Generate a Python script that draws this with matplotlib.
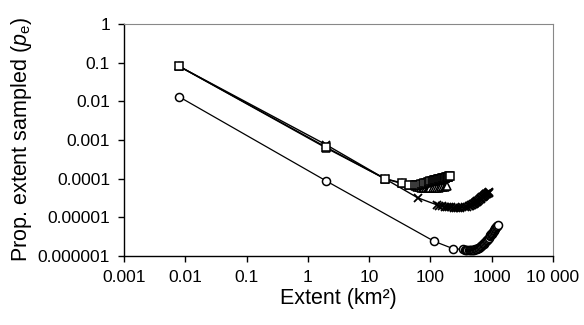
import matplotlib
matplotlib.use("Agg")
import matplotlib.pyplot as plt
from matplotlib.ticker import FixedLocator, FixedFormatter, NullLocator

plt.rcParams['font.family'] = ['Liberation Sans', 'DejaVu Sans']
plt.rcParams['mathtext.fontset'] = 'custom'
plt.rcParams['mathtext.rm'] = 'Liberation Sans'
plt.rcParams['mathtext.it'] = 'Liberation Sans:italic'

# squares
x_sq = [0.008, 2, 18, 34, 45, 56, 60, 65, 70, 75, 80, 85, 90, 95, 100, 105, 110, 115,
        120, 125, 130, 135, 140, 145, 150, 155, 160, 165, 170, 175, 180, 185, 190, 195,
        200, 208]
y_sq = [0.08, 0.00065, 1.0e-4, 7.8e-5, 7.0e-5, 6.8e-5, 6.8e-5, 6.9e-5, 7.1e-5, 7.3e-5,
        7.6e-5, 7.8e-5, 8.0e-5, 8.3e-5, 8.5e-5, 8.7e-5, 8.9e-5, 9.05e-5, 9.2e-5, 9.35e-5,
        9.5e-5, 9.65e-5, 9.8e-5, 9.9e-5, 1.0e-4, 1.02e-4, 1.03e-4, 1.04e-4, 1.05e-4,
        1.07e-4, 1.08e-4, 1.1e-4, 1.11e-4, 1.13e-4, 1.15e-4, 1.18e-4]

# triangles
x_tri = [0.008, 2, 18, 34, 45, 56, 60, 65, 70, 75, 80, 85, 90, 95, 100, 110, 120,
         130, 140, 150, 160, 170, 178, 186]
y_tri = [0.08, 0.00062, 1.0e-4, 7.5e-5, 6.8e-5, 6.4e-5, 6.2e-5, 6.0e-5, 5.9e-5, 5.8e-5,
         5.7e-5, 5.6e-5, 5.6e-5, 5.6e-5, 5.6e-5, 5.6e-5, 5.7e-5, 5.8e-5, 5.9e-5, 6.0e-5,
         6.1e-5, 6.2e-5, 6.3e-5, 6.4e-5]

# crosses
x_x = [0.008, 2, 18, 62, 128, 140, 155, 170, 185, 200, 220, 240, 260, 280, 300, 330,
       360, 390, 420, 450, 465, 480, 495, 510, 525, 540, 555, 570, 585, 600, 620, 640,
       660, 680, 700, 720, 740, 760, 780, 800, 820, 840, 860, 880, 900, 920]
y_x = [0.08, 0.00075, 1.0e-4, 3.2e-5, 2.1e-5, 2.0e-5, 1.95e-5, 1.9e-5, 1.85e-5, 1.82e-5,
       1.8e-5, 1.78e-5, 1.77e-5, 1.77e-5, 1.78e-5, 1.8e-5, 1.83e-5, 1.87e-5, 1.93e-5,
       2.0e-5, 2.05e-5, 2.1e-5, 2.15e-5, 2.2e-5, 2.28e-5, 2.35e-5, 2.42e-5, 2.5e-5,
       2.58e-5, 2.65e-5, 2.78e-5, 2.9e-5, 3.02e-5, 3.15e-5, 3.28e-5, 3.4e-5, 3.52e-5,
       3.65e-5, 3.78e-5, 3.9e-5, 4.0e-5, 4.1e-5, 4.2e-5, 4.3e-5, 4.38e-5, 4.45e-5]

# circles
x_c = [0.008, 2, 115, 234, 340, 360, 380, 400, 420, 440, 460, 480, 500, 520, 540, 560,
       580, 600, 620, 640, 660, 680, 700, 720, 740, 760, 780, 800, 825, 850, 875, 900,
       925, 950, 975, 1000, 1025, 1050, 1075, 1100, 1125, 1150, 1175, 1200, 1235, 1270]
y_c = [0.013, 8.7e-5, 2.4e-6, 1.55e-6, 1.48e-6, 1.47e-6, 1.46e-6, 1.45e-6, 1.45e-6,
       1.45e-6, 1.45e-6, 1.45e-6, 1.46e-6, 1.47e-6, 1.49e-6, 1.51e-6, 1.55e-6, 1.6e-6,
       1.65e-6, 1.7e-6, 1.77e-6, 1.85e-6, 1.92e-6, 2.0e-6, 2.1e-6, 2.2e-6, 2.3e-6,
       2.4e-6, 2.52e-6, 2.65e-6, 2.82e-6, 3.0e-6, 3.2e-6, 3.4e-6, 3.6e-6, 3.8e-6,
       4.0e-6, 4.2e-6, 4.45e-6, 4.7e-6, 4.95e-6, 5.2e-6, 5.5e-6, 5.8e-6, 6.1e-6, 6.4e-6]

x_ticks = [0.001, 0.01, 0.1, 1, 10, 100, 1000, 10000]
x_labels = ['0.001', '0.01', '0.1', '1', '10', '100', '1000', '10 000']
y_ticks = [1e-6, 1e-5, 1e-4, 1e-3, 1e-2, 1e-1, 1]
y_labels = ['0.000001', '0.00001', '0.0001', '0.001', '0.01', '0.1', '1']

fig = plt.figure(figsize=(5.84, 3.25), dpi=100)
ax = fig.add_axes([0.2123, 0.2123, 0.7346, 0.7139])

ax.plot(x_c, y_c, color='black', lw=0.9, marker='o', ms=5.8, mfc='white', mec='black', mew=1.1)
ax.plot(x_x, y_x, color='black', lw=1.0, marker='x', ms=5.5, mec='black', mew=1.3)
ax.plot(x_tri, y_tri, color='black', lw=1.0, marker='^', ms=5.8, mfc='white', mec='black', mew=1.1)
ax.plot(x_sq, y_sq, color='black', lw=1.0, marker='s', ms=5.8, mfc='white', mec='black', mew=1.1)

ax.set_xscale('log')
ax.set_yscale('log')
ax.set_xlim(0.001, 10000)
ax.set_ylim(1e-6, 1)

ax.xaxis.set_major_locator(FixedLocator(x_ticks))
ax.xaxis.set_major_formatter(FixedFormatter(x_labels))
ax.yaxis.set_major_locator(FixedLocator(y_ticks))
ax.yaxis.set_major_formatter(FixedFormatter(y_labels))
ax.xaxis.set_minor_locator(NullLocator())
ax.yaxis.set_minor_locator(NullLocator())
ax.tick_params(axis='both', direction='out', length=4, width=1, labelsize=12.5, pad=6)

for side in ['top', 'right']:
    ax.spines[side].set_color('#888888')
    ax.spines[side].set_linewidth(0.8)
for side in ['left', 'bottom']:
    ax.spines[side].set_color('black')
    ax.spines[side].set_linewidth(1.0)

ax.set_xlabel('Extent (km²)', fontsize=15.5, labelpad=2)
ax.set_ylabel(r'Prop. extent sampled ($\mathit{p}_\mathrm{e}$)', fontsize=15.5, labelpad=3)

fig.savefig('out.png', dpi=100)
